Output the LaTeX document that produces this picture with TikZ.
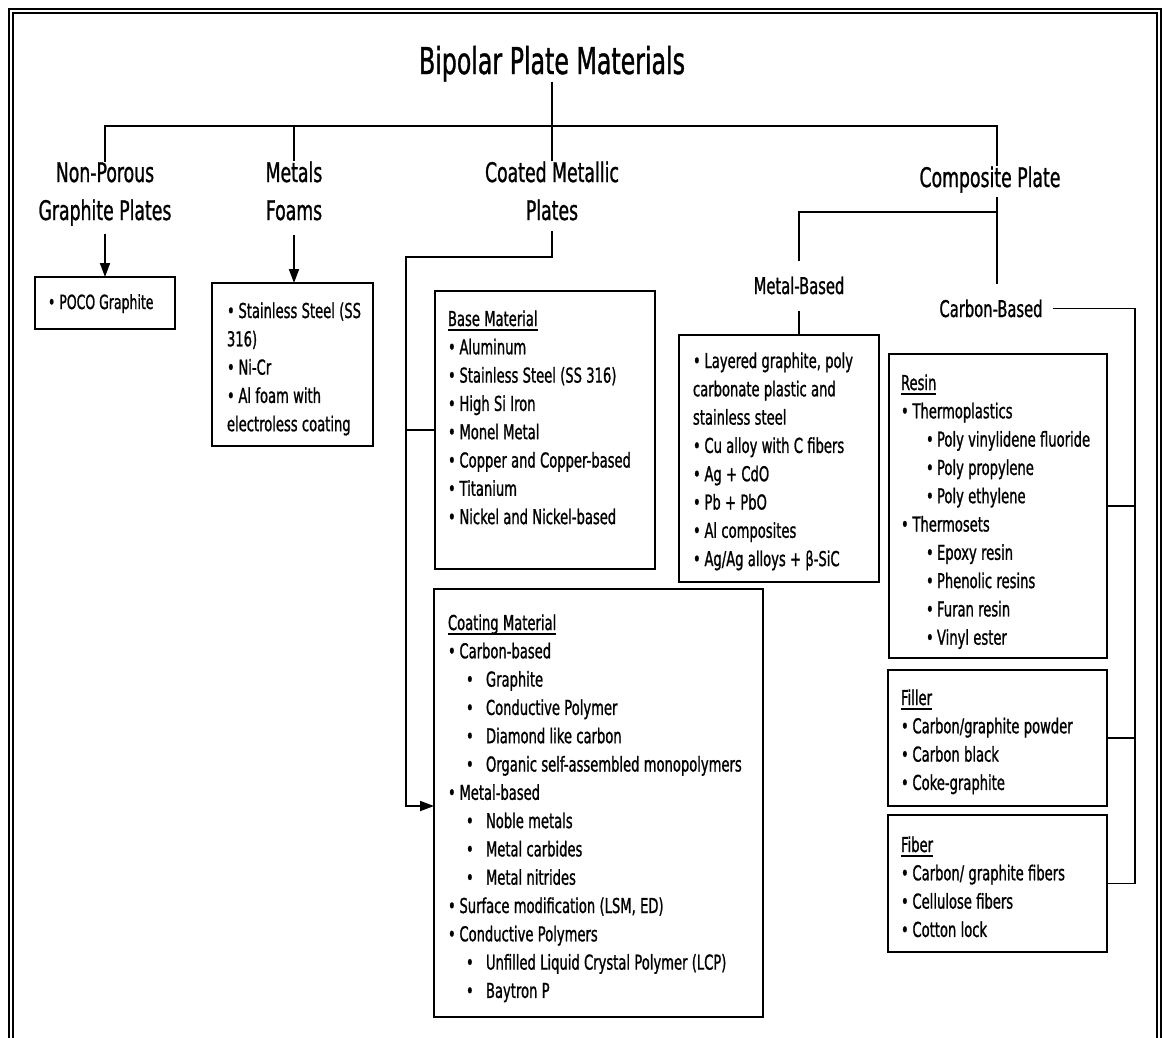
\documentclass[tikz,border=0pt]{standalone}
\usepackage{fontspec}
\setmainfont{DejaVu Sans}[FakeStretch=0.64, FakeBold=1.0]
\usetikzlibrary{arrows.meta}
\newcommand\bulA{\makebox[11.5pt][l]{•}}
\newcommand\bulB{\hspace*{18pt}\makebox[20pt][l]{•}}
\newcommand\bulC{\hspace*{25pt}\makebox[11pt][l]{•}}
\newcommand\ulhead[1]{\setbox0\hbox{#1}\rlap{\rule[-4.5pt]{\wd0}{1.4pt}}\box0}
\newcommand\tightsp{\spaceskip=4.3pt plus 1pt minus 1pt\relax\xspaceskip=4.3pt\relax}
\begin{document}
\begin{tikzpicture}[x=1pt,y=-1pt,
  every node/.style={inner sep=0pt, outer sep=0pt},
  lab/.style={align=center, font=\fontsize{27}{38}\selectfont},
  sublab/.style={font=\fontsize{23}{28}\selectfont},
  box/.style={draw, line width=1.8pt, rectangle, inner sep=0pt, anchor=north west},
  txt/.style={anchor=base west, text width=#1, font=\fontsize{20.5}{28.3}\selectfont},
  txt/.default=320pt,
  conn/.style={line width=1.8pt},
  arr/.style={line width=1.8pt, -{Triangle[length=14pt,width=10pt]}},
]
\useasboundingbox (0,0) rectangle (1164,1037);
\fill[white] (0,0) rectangle (1164,1037);
% page frame (double rule, open at bottom)
\draw[line width=2pt] (9,1040) -- (9,9) -- (1161,9) -- (1161,1040);
\draw[line width=2pt] (13,1040) -- (13,13) -- (1157,13) -- (1157,1040);

% labels (base anchor = baseline of the last line)
\node[font=\fontsize{37}{44}\selectfont, anchor=base] (title) at (552,74) {Bipolar Plate Materials};
\node[lab, anchor=base] (npg) at (105,220) {Non-Porous\\Graphite Plates};
\node[lab, anchor=base] (mf) at (294,220) {Metals\\Foams};
\node[lab, anchor=base] (cmp) at (552,220) {Coated Metallic\\Plates};
\node[lab, anchor=base] (comp) at (990,187) {Composite Plate};
\node[sublab, anchor=base] (metb) at (799,294) {Metal-Based};
\node[sublab, anchor=base] (carb) at (991,317) {Carbon-Based};

% boxes
\node[box, minimum width=140pt, minimum height=52pt] (poco) at (35,277) {};
\node[font=\fontsize{19.5}{22}\selectfont, anchor=base west] (pocot) at (48,309) {• POCO Graphite};

\node[box, minimum width=161pt, minimum height=163pt] (mfbox) at (212,283) {};
\node[txt] (mft) at (227,318) {\tightsp\bulA Stainless Steel (SS\\316)\\\bulA Ni-Cr\\\bulA Al foam with\\electroless coating};

\node[box, minimum width=220pt, minimum height=278pt] (base) at (435,291) {};
\node[txt] (baset) at (448,326) {\tightsp\ulhead{Base Material}\\\bulA Aluminum\\\bulA Stainless Steel (SS 316)\\\bulA High Si Iron\\\bulA Monel Metal\\\bulA Copper and Copper-based\\\bulA Titanium\\\bulA Nickel and Nickel-based};

\node[box, minimum width=329pt, minimum height=428pt] (coat) at (434,589) {};
\node[txt] (coatt) at (448,630) {\tightsp\ulhead{Coating Material}\\
\bulA Carbon-based\\
\bulB Graphite\\
\bulB Conductive Polymer\\
\bulB Diamond like carbon\\
\bulB Organic self-assembled monopolymers\\
\bulA Metal-based\\
\bulB Noble metals\\
\bulB Metal carbides\\
\bulB Metal nitrides\\
\bulA Surface modification (LSM, ED)\\
\bulA Conductive Polymers\\
\bulB Unfilled Liquid Crystal Polymer (LCP)\\
\bulB Baytron P};

\node[box, minimum width=200pt, minimum height=247pt] (mbbox) at (679,335) {};
\node[txt] (mbt) at (693,368) {\tightsp\bulA Layered graphite, poly\\carbonate plastic and\\stainless steel\\\bulA Cu alloy with C fibers\\\bulA Ag + CdO\\\bulA Pb + PbO\\\bulA Al composites\\\bulA Ag/Ag alloys + β-SiC};

\node[box, minimum width=218pt, minimum height=304pt] (resin) at (889,354) {};
\node[txt] (resint) at (901,390) {\tightsp\ulhead{Resin}\\
\bulA Thermoplastics\\
\bulC Poly vinylidene fluoride\\
\bulC Poly propylene\\
\bulC Poly ethylene\\
\bulA Thermosets\\
\bulC Epoxy resin\\
\bulC Phenolic resins\\
\bulC Furan resin\\
\bulC Vinyl ester};

\node[box, minimum width=219pt, minimum height=136pt] (filler) at (888,670) {};
\node[txt] (fillert) at (901,705) {\tightsp\ulhead{Filler}\\\bulA Carbon/graphite powder\\\bulA Carbon black\\\bulA Coke-graphite};

\node[box, minimum width=219pt, minimum height=137pt] (fiber) at (888,815) {};
\node[txt] (fibert) at (901,852) {\tightsp\ulhead{Fiber}\\\bulA Carbon/ graphite fibers\\\bulA Cellulose fibers\\\bulA Cotton lock};

% junction coordinates
\coordinate (bar) at (552,126);
\coordinate (cpx) at (997,212);
\coordinate (cj) at (406,257);
\coordinate (rx) at (1135,307);
\coordinate (ca) at (434,806);

% connectors
\draw[conn] (title.south) -- (cmp.north);
\draw[conn] (npg.north) |- (bar) -| (comp.north -| cpx);
\draw[conn] (mf.north) -- (mf.north |- bar);
\draw[arr, shorten <=8pt] (npg.south) -- (poco.north);
\draw[arr, shorten <=15pt] (mf.south) -- (mf.south |- mfbox.north);
\draw[arr, shorten <=11pt] (cmp.south) |- (cj) |- (ca);
\draw[conn] (base.west) -- (base.west -| cj);
\draw[conn, shorten <=4pt, shorten >=16pt] (comp.south -| cpx) -- (carb.north -| cpx);
\draw[conn, shorten >=16pt] (cpx) -| (metb.north);
\draw[conn, shorten <=17pt] (metb.south) -- (metb.south |- mbbox.north);
\draw[conn, shorten <=10pt] (carb.east) -- (carb.east -| rx) |- (fiber.east);
\draw[conn] (resin.east) -- (resin.east -| rx);
\draw[conn] (filler.east) -- (filler.east -| rx);
\end{tikzpicture}
\end{document}
